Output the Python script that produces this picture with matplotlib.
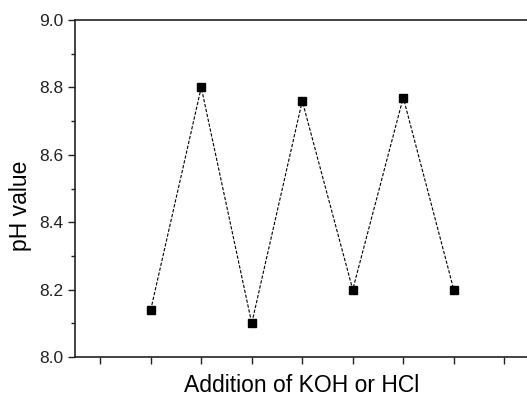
import matplotlib.pyplot as plt
from matplotlib.ticker import MultipleLocator

plt.rcParams['font.family'] = ['Liberation Sans', 'DejaVu Sans']

# data
steps = [1, 2, 3, 4, 5, 6, 7]
ph = [8.14, 8.80, 8.10, 8.76, 8.20, 8.77, 8.20]

fig = plt.figure(figsize=(5.27, 3.96), dpi=100)
# axes runs past the right edge of the figure, as in the cropped original
ax = fig.add_axes([75 / 527, 39 / 396, 505 / 527, 337 / 396])

ax.plot(steps, ph, linestyle=(0, (3, 1.5)), linewidth=0.8, color='black',
        marker='s', markersize=5.5, markerfacecolor='black', markeredgecolor='black')

ax.set_xlim(-0.5, 9.5)
ax.set_ylim(8.0, 9.0)
ax.set_xticks(range(0, 10))
ax.set_xticklabels([])
ax.yaxis.set_major_locator(MultipleLocator(0.2))
ax.yaxis.set_minor_locator(MultipleLocator(0.1))
ax.yaxis.set_major_formatter(plt.FormatStrFormatter('%.1f'))

ax.tick_params(axis='both', which='both', direction='out', width=1.0, color='#222222')
ax.tick_params(axis='both', which='major', length=5, labelsize=12.5, labelcolor='#222222')
ax.tick_params(axis='y', which='minor', length=3)

for s in ['left', 'bottom', 'top']:
    ax.spines[s].set_linewidth(1.2)
    ax.spines[s].set_color('#222222')
ax.spines['right'].set_visible(False)

ax.set_xlabel('Addition of KOH or HCl', fontsize=16.5)
ax.xaxis.set_label_coords(0.448, -0.104)
ax.xaxis.label.set_va('baseline')
ax.set_ylabel('pH value', fontsize=16.5)
ax.yaxis.set_label_coords(-0.085, 0.45)

fig.savefig('out.png', dpi=100)
